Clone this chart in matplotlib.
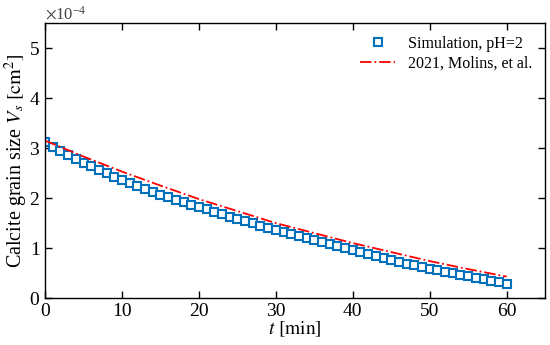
import matplotlib
matplotlib.use("Agg")
import matplotlib.pyplot as plt
from matplotlib.ticker import ScalarFormatter

# data (values in units of 1e-4 cm^2)
t_sim = list(range(0, 61))
vs_sim = [3.13, 3.03, 2.95, 2.87, 2.79, 2.71, 2.64, 2.57, 2.50, 2.43,
          2.37, 2.31, 2.25, 2.19, 2.13, 2.07, 2.02, 1.97, 1.92, 1.87,
          1.82, 1.78, 1.73, 1.68, 1.63, 1.59, 1.54, 1.50, 1.45, 1.41,
          1.37, 1.32, 1.28, 1.24, 1.20, 1.16, 1.12, 1.08, 1.04, 1.00,
          0.96, 0.92, 0.88, 0.84, 0.80, 0.77, 0.73, 0.69, 0.66, 0.62,
          0.59, 0.56, 0.53, 0.50, 0.47, 0.44, 0.41, 0.38, 0.35, 0.32,
          0.29]
t_ref = [0, 5, 10, 15, 20, 25, 30, 35, 40, 45, 50, 55, 60]
vs_ref = [3.15, 2.83, 2.53, 2.25, 1.98, 1.74, 1.50, 1.30, 1.10, 0.92,
          0.74, 0.58, 0.43]
scale = 1e-4

plt.rcParams['font.family'] = ['Liberation Serif', 'DejaVu Serif']
plt.rcParams['mathtext.fontset'] = 'stix'

fig = plt.figure(figsize=(5.5, 3.45), dpi=100)
ax = fig.add_axes([0.082, 0.136, 0.909, 0.797])

ax.plot(t_sim, [v * scale for v in vs_sim], 's', color='#0072BD',
        mfc='white', mec='#0072BD', ms=5.5, mew=1.5,
        label='Simulation, pH=2')
ax.plot(t_ref, [v * scale for v in vs_ref], '-.', color='red', lw=1.3,
        label='2021, Molins, et al.')

ax.set_xlim(0, 65)
ax.set_ylim(0, 5.5e-4)
ax.set_xticks([0, 10, 20, 30, 40, 50, 60])
ax.set_yticks([0, 1e-4, 2e-4, 3e-4, 4e-4, 5e-4])

fmt = ScalarFormatter(useMathText=True)
fmt.set_powerlimits((-3, 3))
ax.yaxis.set_major_formatter(fmt)
ax.yaxis.get_offset_text().set_fontsize(12)
ax.yaxis.get_offset_text().set_color('#444444')

ax.tick_params(direction='in', top=True, right=True, length=5,
               width=1, labelsize=14)
for s in ax.spines.values():
    s.set_linewidth(1)

ax.set_xlabel('$t\\ [\\mathrm{min}]$', fontsize=14, labelpad=0)
ax.set_ylabel('Calcite grain size $V_s\\ [\\mathrm{cm}^2]$', fontsize=14.5)
ax.yaxis.set_label_coords(-0.03, 0.5)

ax.legend(loc='upper right', frameon=False, fontsize=11.5,
          handlelength=2.2, borderaxespad=0.4, labelspacing=0.25)

fig.savefig('out.png', dpi=100)
